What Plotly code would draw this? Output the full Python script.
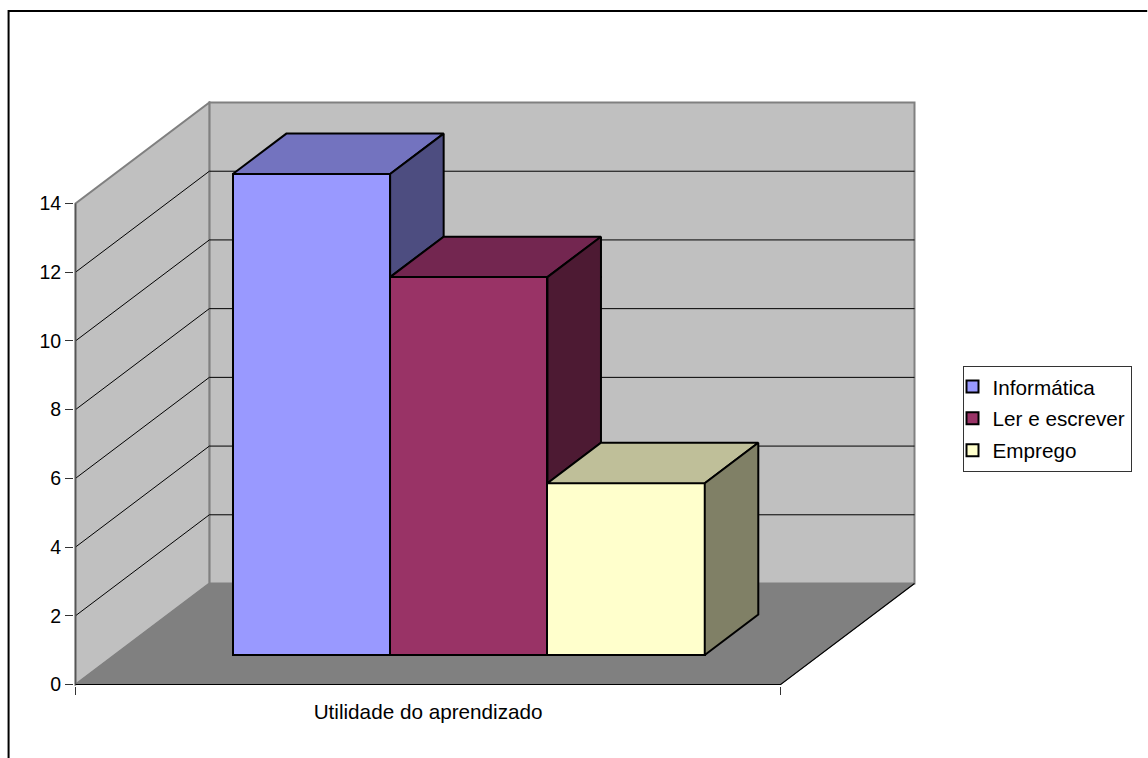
import plotly.graph_objects as go

series_names = ["Informática", "Ler e escrever", "Emprego"]
series_values = [14, 11, 5]
front_colors = ["#9999FF", "#993366", "#FFFFCC"]
top_colors = ["#7373BF", "#732650", "#BFBF99"]
side_colors = ["#4D4D80", "#4D1A33", "#808066"]
category_label = "Utilidade do aprendizado"
y_ticks = [0, 2, 4, 6, 8, 10, 12, 14]
y_max = 14

# oblique projection of the depth axis, in axis units
DX = 134 / 706
DY = 101 / 34.36
BAR_W = 157.5 / 706
BAR_X0 = (232.5 - 75) / 706
BAR_F0 = 0.292
BAR_DEPTH = 0.40
FONT = "Liberation Sans, Arial, sans-serif"
FS_TICK = 19.5
FS_TEXT = 20.7

px_x = 1 / 706
px_y = 1 / 34.36
x_range = [-1.5 * px_x, 1 + DX + 1.5 * px_x]
y_range = [-1.5 * px_y, y_max + DY + 1.5 * px_y]

M_L, M_R, M_T, M_B = 73.5, 231.5, 101, 72
W, H = 1148, 758
PW, PH = W - M_L - M_R, H - M_T - M_B


def path(points):
    return "M " + " L ".join(f"{x},{y}" for x, y in points) + " Z"


def line_path(points):
    return "M " + " L ".join(f"{x},{y}" for x, y in points)


def paper(px, py):
    return ((px - M_L) / PW, (H - M_B - py) / PH)


shapes = []
WALL = "#C0C0C0"
EDGE = "#808080"
# back wall
shapes.append(dict(type="path", path=path([(DX, DY), (1 + DX, DY), (1 + DX, y_max + DY), (DX, y_max + DY)]),
                   fillcolor=WALL, line=dict(color=EDGE, width=2), layer="below"))
# left wall
shapes.append(dict(type="path", path=path([(0, 0), (DX, DY), (DX, y_max + DY), (0, y_max)]),
                   fillcolor=WALL, line=dict(color=EDGE, width=2), layer="below"))
# floor
shapes.append(dict(type="path", path=path([(0, 0), (1, 0), (1 + DX, DY), (DX, DY)]),
                   fillcolor="#808080", line=dict(color="#808080", width=1), layer="below"))
# gridlines
for t in y_ticks[1:-1]:
    shapes.append(dict(type="path", path=line_path([(0, t), (DX, t + DY), (1 + DX, t + DY)]),
                       line=dict(color="#000000", width=1), layer="below"))
# axis lines
shapes.append(dict(type="path", path=line_path([(0, 0), (0, y_max)]), line=dict(color="#555555", width=1.5), layer="below"))
shapes.append(dict(type="path", path=line_path([(0, 0), (1, 0), (1 + DX, DY)]), line=dict(color="#000000", width=1.2), layer="below"))
# outer chart frame (open at right and bottom)
frame = [paper(8, H), paper(8, 11), paper(W, 11)]
shapes.append(dict(type="path", xref="paper", yref="paper", path=line_path(frame),
                   line=dict(color="#000000", width=2)))

fig = go.Figure()
base = BAR_F0 * DY
x0 = BAR_X0
dfx = BAR_DEPTH * DX
dfy = BAR_DEPTH * DY
EDGE_W = 2
for i, (name, v) in enumerate(zip(series_names, series_values)):
    left = x0 + i * BAR_W
    right = left + BAR_W
    fig.add_trace(go.Bar(
        x=[(left + right) / 2], y=[v], base=[base], width=[BAR_W], name=name,
        legendgroup=name, marker=dict(color=front_colors[i], line=dict(color="#000000", width=EDGE_W)),
        hovertemplate=f"{name}: {v}<extra></extra>",
    ))
for i, v in enumerate(series_values):
    left = x0 + i * BAR_W
    right = left + BAR_W
    top = base + v
    nxt = base + (series_values[i + 1] if i + 1 < len(series_values) else 0)
    fig.add_trace(go.Scatter(
        x=[left, left + dfx, right + dfx, right, left],
        y=[top, top + dfy, top + dfy, top, top],
        mode="lines", fill="toself", fillcolor=top_colors[i],
        line=dict(color="#000000", width=EDGE_W), showlegend=False, hoverinfo="skip"))
    fig.add_trace(go.Scatter(
        x=[right, right + dfx, right + dfx, right, right],
        y=[top, top + dfy, nxt + dfy, nxt, top],
        mode="lines", fill="toself", fillcolor=side_colors[i],
        line=dict(color="#000000", width=EDGE_W), showlegend=False, hoverinfo="skip"))

fig.update_layout(
    width=W, height=H,
    margin=dict(l=M_L, r=M_R, t=M_T, b=M_B, pad=0, autoexpand=False),
    paper_bgcolor="#FFFFFF", plot_bgcolor="rgba(0,0,0,0)",
    barmode="overlay", bargap=0,
    font=dict(family=FONT, size=FS_TICK, color="#000000"),
    shapes=shapes,
    showlegend=True,
    legend=dict(xref="container", yref="container", x=962.5 / W, y=1 - 365.5 / H,
                xanchor="left", yanchor="top", bgcolor="#FFFFFF",
                bordercolor="#333333", borderwidth=1, tracegroupgap=2,
                font=dict(family=FONT, size=FS_TEXT), indentation=-11,
                itemclick=False, itemdoubleclick=False),
    xaxis=dict(range=x_range, showgrid=False, zeroline=False, showline=False,
               tickvals=[0.5], ticktext=[category_label], ticks="", ticklabelstandoff=11,
               tickfont=dict(family=FONT, size=FS_TEXT),
               minor=dict(tickvals=[0, 1], ticks="outside", ticklen=8, tickcolor="#333333", tickwidth=1),
               fixedrange=True),
    yaxis=dict(range=y_range, showgrid=False, zeroline=False, showline=False,
               tickvals=y_ticks, ticks="outside", ticklen=8, tickcolor="#333333", tickwidth=1,
               fixedrange=True),
)

fig.write_html("out.html", post_script="document.body.style.margin='0';document.body.style.overflow='hidden';",
               config={"displayModeBar": False})
